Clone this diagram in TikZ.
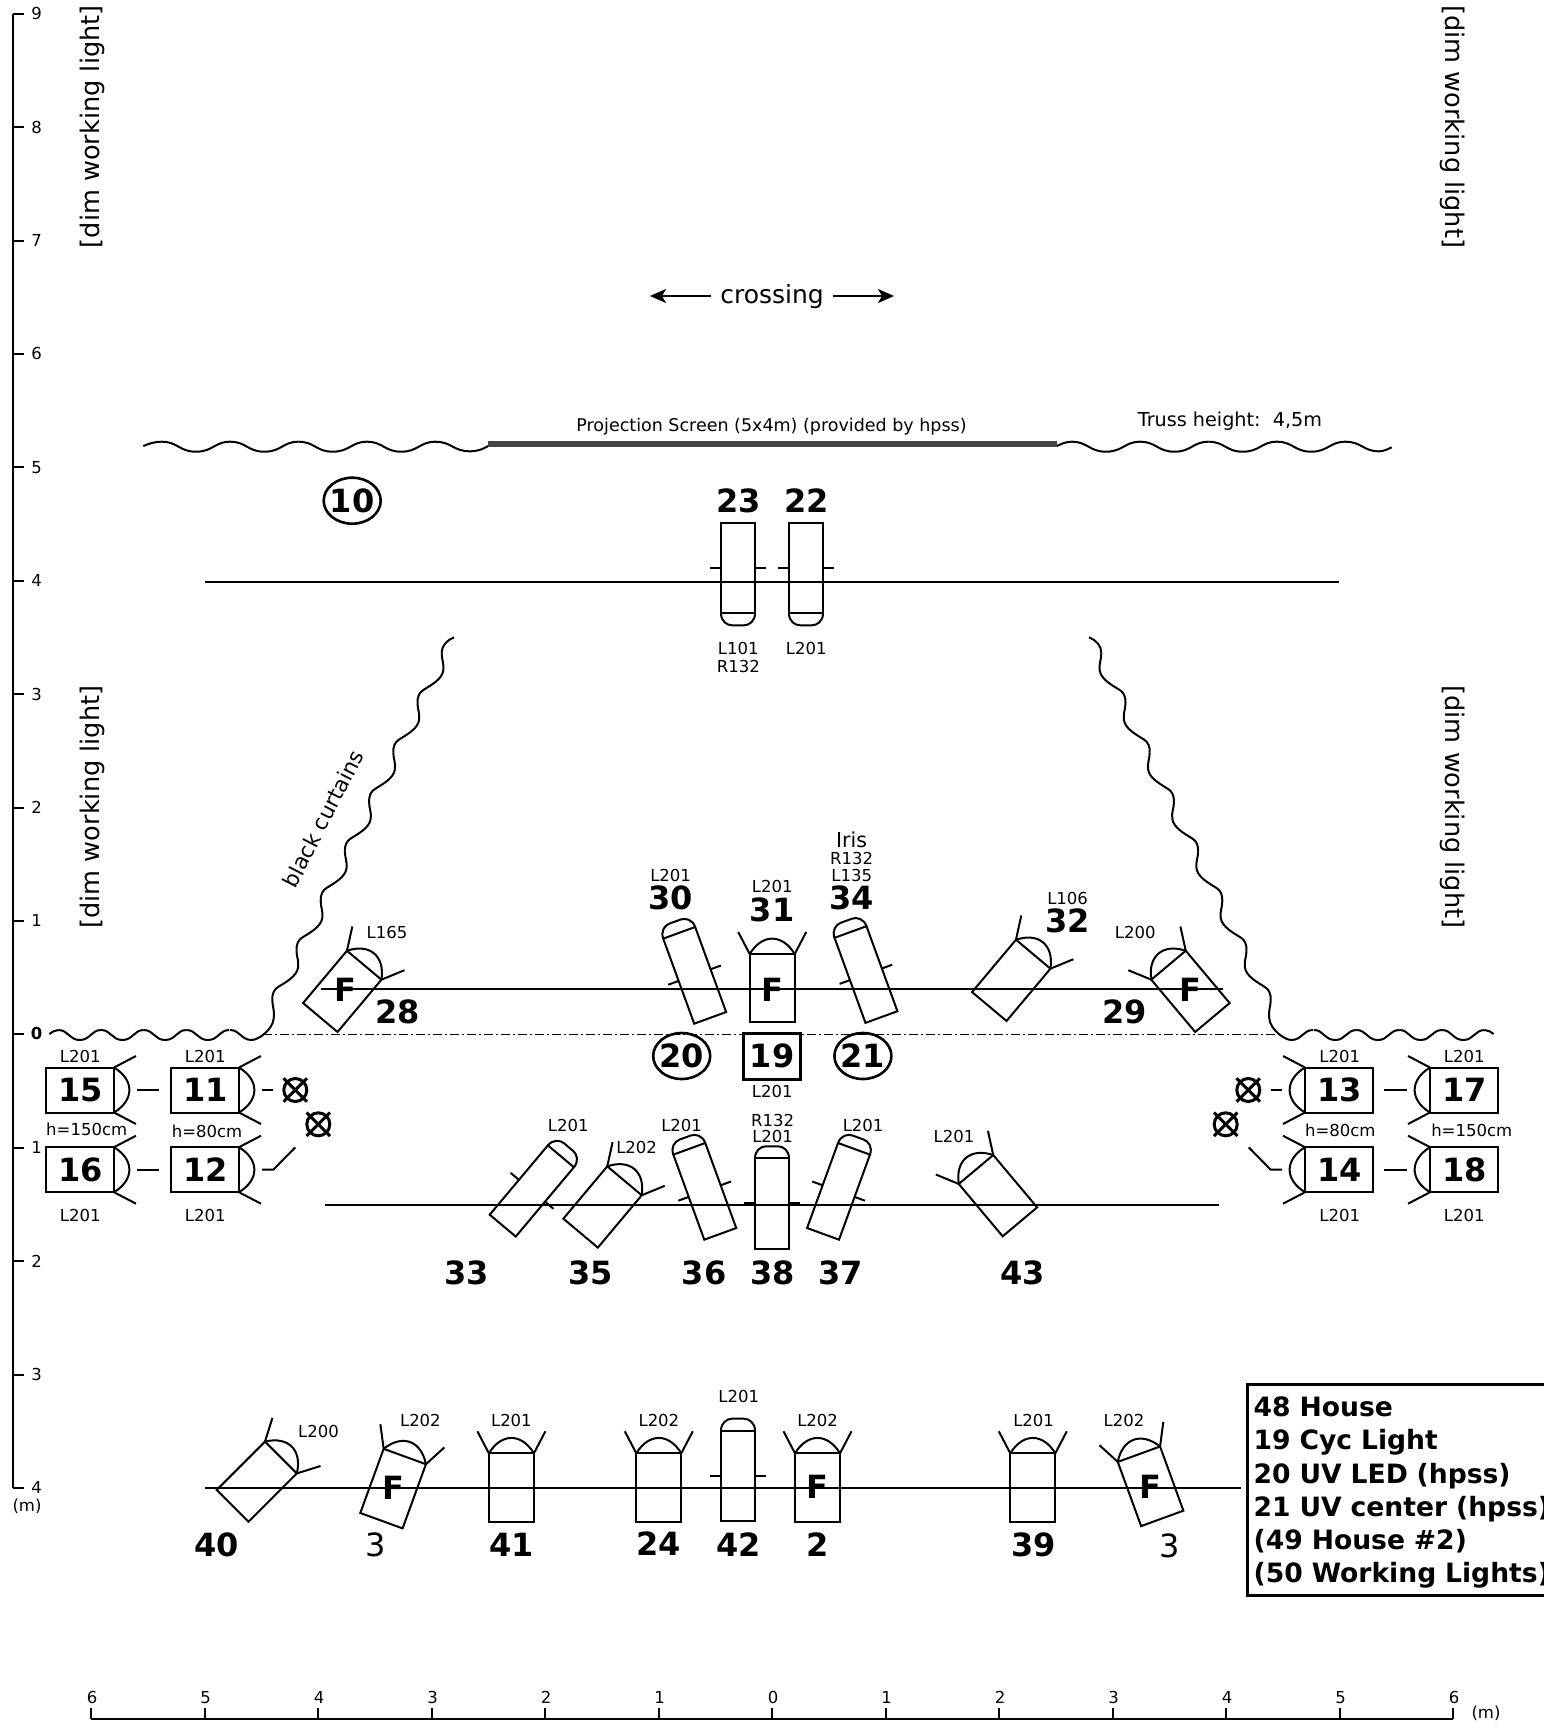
\documentclass[tikz,border=0pt]{standalone}
\usepackage{fontspec}
\setmainfont{DejaVu Sans}
\usetikzlibrary{arrows.meta}

\tikzset{
    numlabel/.style={font=\fontsize{32}{32}\selectfont\bfseries,inner sep=0pt,xshift=1pt},
    gellabel/.style={font=\fontsize{16.5}{16.5}\selectfont,inner sep=0pt,xshift=1pt},
    scalelabel/.style={font=\fontsize{16.5}{16.5}\selectfont,inner sep=0pt,xshift=1pt},
    walllabel/.style={font=\fontsize{25.6}{25.6}\selectfont,inner sep=0pt},
    pics/fresnel/.style={code={
        \draw (-22.5,0) rectangle (22.5,68.3);
        \draw (-22.5,0) .. controls (-10,-20.5) and (10,-20.5) .. (22.5,0);
        \draw (-22.5,0) -- (-34,-22);
        \draw (22.5,0) -- (34,-22);
    }},
    pics/profile/.style={code={
        \draw (-17,0) rectangle (17,90.5);
        \draw (-17,0) .. controls (-17,-8) and (-11,-12) .. (-6,-12) -- (6,-12) .. controls (11,-12) and (17,-8) .. (17,0);
        \draw (-28,45) -- (-17,45);
        \draw (17,45) -- (28,45);
    }},
    pics/outlet/.style={code={
        \draw[line width=3pt] (0,0) circle (11.5);
        \draw[line width=3pt] (-11.7,-11.7) -- (11.7,11.7);
        \draw[line width=3pt] (-11.7,11.7) -- (11.7,-11.7);
    }},
    pics/wavefold/.style={code={
        \draw (0,0) .. controls (10,0) and (11,10) .. (21.35,10) .. controls (32,10) and (33,0) .. (42.7,0);
    }},
    pics/curtainfold/.style={code={
        \draw (0,0) .. controls (0,7) and (2.5,10) .. (1.6,17) .. controls (0.5,26) and (-11,32) .. (-18.4,36.7) .. controls (-22.5,39) and (-24.5,44) .. (-24.2,49.5);
    }},
    pics/curtain/.style={code={
        \draw (454,637.3) .. controls (447,640) and (441.3,646) .. (441.7,653.3);
        \foreach \k in {0,...,6}{
            \pic[transform shape] at ({441.7-24.2*\k},{653.3+49.5*\k}) {curtainfold};
        }
        \draw (272.3,1000) .. controls (272.3,1007) and (275,1010) .. (273.6,1019) .. controls (272.5,1030) and (258,1040) .. (251.7,1040) .. controls (241,1040) and (240,1030) .. (230,1030);
        \foreach \k in {0,...,3}{
            \pic[transform shape] at ({58.3+42.7*\k},1030) {wavefold};
        }
        \draw (49.3,1034) .. controls (52,1032) and (55,1030) .. (58.3,1030);
    }},
}

\begin{document}
\begin{tikzpicture}[x=1pt,y=-1pt,line width=2pt]
    \definecolor{screen_grey}{HTML}{444444}
    \useasboundingbox (0,0) rectangle (1543,1730);

    % scales
    \draw (13,14) -- (13,1488);
    \draw (91,1719) -- (1453,1719);
    \foreach \n in {1,...,9}{
        \draw (13,{1034.3-113.4*\n}) -- ++(11,0);
        \node[scalelabel] (up\n) at (35.7,{1034.3-113.4*\n}) {\n};
    }
    \foreach \n in {1,...,4}{
        \draw (13,{1034.3+113.4*\n}) -- ++(11,0);
        \node[scalelabel] (down\n) at (35.7,{1034.3+113.4*\n}) {\n};
    }
    \draw (13,1034.3) -- ++(11,0);
    \node[scalelabel,font=\fontsize{16.5}{16.5}\selectfont\bfseries] (down0) at (35.7,1033.3) {0};
    \node[scalelabel] (downm) at (26,1506.5) {(m)};
    \foreach \n in {1,...,6}{
        \draw ({772+113.5*\n},1719) -- ++(0,-10.6);
        \draw ({772-113.5*\n},1719) -- ++(0,-10.6);
        \node[scalelabel] (right\n) at ({772+113.5*\n},1697.3) {\n};
        \node[scalelabel] (left\n) at ({772-113.5*\n},1697.3) {\n};
    }
    \draw (772,1719) -- ++(0,-10.6);
    \node[scalelabel] (mid0) at (772,1697.3) {0};
    \node[scalelabel] (rightm) at (1485,1713) {(m)};

    % walls and screen
    \pic at (0,0) {curtain};
    \pic[xscale=-1] at (1543,0) {curtain};
    \draw[dash pattern=on 9pt off 3pt on 2pt off 3pt,line width=1.6pt] (263,1034.5) -- (1277,1034.5);
    \draw (143.3,446) .. controls (149,443.5) and (155,441.7) .. (161.7,441.7);
    \foreach \k in {0,...,3}{
        \pic[xscale=1.602] at ({161.7+68.4*\k},441.7) {wavefold};
    }
    \draw (435,441.7) .. controls (452,441.7) and (453,451.3) .. (470,451.3) .. controls (478,451.3) and (483,449) .. (488.3,446);
    \draw (1056.7,446) .. controls (1061,444) and (1066,441.7) .. (1071.7,441.7);
    \foreach \k in {0,...,3}{
        \pic[xscale=1.602] at ({1071.7+68.4*\k},441.7) {wavefold};
    }
    \draw (1345,441.7) .. controls (1362,441.7) and (1363,451.3) .. (1379,451.3) .. controls (1384,451.3) and (1388,449) .. (1391.7,447.3);
    \draw[screen_grey,line width=6pt] (487.5,443.7) -- (1056.6,443.7);

    % pipes
    \draw (205,581.7) -- (1339,581.7);
    \draw (320.7,988.5) -- (1222.7,988.5);
    \draw (325,1205) -- (1219.3,1205);
    \draw (205,1488.3) -- (1241.3,1488.3);

    % lamps on the pipes
    \pic[rotate=180] at (738,613.3) {profile};
    \pic[rotate=180] at (806,613.3) {profile};
    \pic[rotate=-40] at (364.2,965.2) {fresnel};
    \pic[rotate=40] at (1168.5,965.2) {fresnel};
    \pic[rotate=-40] at (1033.2,954.2) {fresnel};
    \pic at (772.2,954) {fresnel};
    \pic[rotate=20] at (679.2,932.8) {profile};
    \pic[rotate=20] at (850.5,932) {profile};
    \pic[rotate=-40] at (560.9,1156.3) {profile};
    \pic[rotate=20] at (689.3,1148.8) {profile};
    \pic at (772,1158.3) {profile};
    \pic[rotate=-20] at (854,1148.8) {profile};
    \pic[rotate=-40] at (624.5,1180.8) {fresnel};
    \pic[rotate=40] at (976,1169.5) {fresnel};
    \pic[rotate=-45] at (280.9,1457.5) {fresnel};
    \pic[rotate=-20] at (404.8,1456.5) {fresnel};
    \pic at (511.4,1453.3) {fresnel};
    \pic at (658.8,1453.3) {fresnel};
    \pic at (738,1430.7) {profile};
    \pic at (817.5,1453.3) {fresnel};
    \pic at (1032.8,1453.3) {fresnel};
    \pic[rotate=20] at (1138.9,1454.2) {fresnel};

    % floor stands
    \foreach \x/\y in {114/1090,239/1090,114/1169.7,239/1169.7}{
        \pic[rotate=-90] at (\x,\y) {fresnel};
    }
    \foreach \x/\y in {1305/1090,1430/1090,1305/1169.7,1430/1169.7}{
        \pic[rotate=90] at (\x,\y) {fresnel};
    }
    \draw (137,1090) -- (159.3,1090);
    \draw (262,1090) -- (272.7,1090);
    \draw (137,1169.7) -- (159.3,1169.7);
    \draw (262,1169.7) -- (273.3,1169.7) -- (295.3,1147.3);
    \draw (1271,1090) -- (1282,1090);
    \draw (1384.3,1090) -- (1407,1090);
    \draw (1384.3,1169.7) -- (1407,1169.7);
    \draw (1282,1169.7) -- (1270.7,1169.7) -- (1248.7,1147.3);
    \pic at (295.3,1090) {outlet};
    \pic at (318.3,1124.3) {outlet};
    \pic at (1248.3,1090) {outlet};
    \pic at (1225.7,1124.3) {outlet};

    % circuit numbers
    \foreach \t/\x/\y in {
        15/79.3/1090,11/204.3/1090,16/79.3/1169.7,12/204.3/1169.7,
        13/1338.7/1090,17/1463.7/1090,14/1338.7/1169.7,18/1463.7/1169.7,
        23/737.5/500.8,22/805.8/500.8,
        28/396.7/1011.7,29/1123.3/1011.7,30/669.6/898.3,31/771.2/910,34/850.7/898.3,32/1066.6/921,
        33/465.5/1272.7,35/589.7/1272.7,36/703.2/1272.7,38/771.6/1272.7,37/839.6/1272.7,43/1021.5/1272.7,
        40/215.6/1545,41/510.4/1545,24/657.9/1544,42/737.7/1545,2/816.6/1545,39/1032.6/1545}{
        \node[numlabel] (num\t) at (\x,\y) {\t};
    }
    \node[numlabel] (num19) at (771.2,1056) {19};
    \node[numlabel] (num20) at (680.7,1056) {20};
    \node[numlabel] (num21) at (861.9,1056) {21};
    \node[numlabel] (num10) at (351.2,500.7) {10};
    \draw[line width=3pt] (743.1,1033.3) rectangle (800.8,1079.3);
    \draw[line width=2.6pt] (num20) ellipse (28.5 and 23);
    \draw[line width=2.6pt] (num21) ellipse (28.5 and 23);
    \draw[line width=2.6pt] (num10) ellipse (28.5 and 23);
    \node[numlabel,font=\fontsize{32}{32}\selectfont] (numa3) at (374.3,1545) {3};
    \node[numlabel,font=\fontsize{32}{32}\selectfont] (numb3) at (1168.3,1546) {3};
    \foreach \m/\x/\y in {28/344.3/990,29/1189/990,31/771.6/990,a3/392.5/1488.3,2/816.6/1487.3,b3/1149.8/1486.7}{
        \node[numlabel] (f\m) at (\x,\y) {F};
    }

    % gels
    \foreach \m/\t/\x/\y in {
        15/L201/79.3/1056.7,11/L201/204.3/1056.7,16/L201/79.3/1215,12/L201/204.3/1215,
        13/L201/1338.7/1056.7,17/L201/1463.3/1056.7,14/L201/1338.7/1215,18/L201/1463.3/1215,
        hb/h=150cm/85.7/1129.3,ha/h=80cm/206/1131,hc/h=80cm/1339.3/1130,hd/h=150cm/1470.7/1130,
        23/L101/737.3/648.3,23b/R132/737.3/666.7,22/L201/805.3/648.3,
        28/L165/386/932.3,29/L200/1134.3/932.3,30/L201/669.6/875,31/L201/771.2/886,
        34/L135/850.7/875,34b/R132/850.7/858.3,32/L106/1066.6/898,19/L201/771.2/1091,
        38b/R132/771.6/1120,38/L201/771.6/1136.7,33/L201/567.2/1125,35/L202/635.6/1147.3,
        36/L201/680.6/1125,37/L201/862.1/1125,43/L201/953/1136.7,
        40/L200/317.5/1431,a3/L202/419.4/1420,41/L201/510.4/1420,24/L202/657.9/1420,
        42/L201/737.7/1396.7,2/L202/816.6/1420,39/L201/1032.6/1420,b3/L202/1123/1420}{
        \node[gellabel] (gel\m) at (\x,\y) {\t};
    }
    \node[inner sep=0pt,font=\fontsize{20.6}{20.6}\selectfont] (iris34) at (851.5,840) {Iris};

    % texts
    \node[walllabel,font=\fontsize{25}{25}\selectfont] (crossing) at (772,296) [text height=19pt,text depth=4pt,inner xsep=8pt] {crossing};
    \coordinate (crossingl) at (650,296);
    \coordinate (crossingr) at (894,296);
    \draw[-{Stealth[length=16pt,width=14pt,inset=4pt]}] (crossing.west) -- (crossingl);
    \draw[-{Stealth[length=16pt,width=14pt,inset=4pt]}] (crossing.east) -- (crossingr);
    \node[inner sep=0pt,font=\fontsize{17.5}{17.5}\selectfont] (screen) at (771.5,426.5) {Projection Screen (5x4m) (provided by hpss)};
    \node[inner sep=0pt,font=\fontsize{19.2}{19.2}\selectfont] (truss) at (1230,421) {Truss height:\ \ 4,5m};
    \node[inner sep=0pt,rotate=63,font=\fontsize{21.5}{21.5}\selectfont] (curtains) at (323,818.7) {black curtains};
    \node[walllabel,rotate=90] (dimlt) at (92.5,126.8) {[dim working light]};
    \node[walllabel,rotate=90] (dimlb) at (92.5,807) {[dim working light]};
    \node[walllabel,rotate=-90] (dimrt) at (1453,126.8) {[dim working light]};
    \node[walllabel,rotate=-90] (dimrb) at (1453,807) {[dim working light]};

    % legend
    \node[draw,line width=3pt,anchor=north west,inner sep=6pt,text width=330pt,align=left,minimum height=211pt,font=\fontsize{26.6}{33.2}\selectfont\bfseries] (legend) at (1246.2,1382.5) {\rule{0pt}{26pt}48 House\\19 Cyc Light\\20 UV LED (hpss)\\21 UV center (hpss)\\(49 House \#2)\\(50 Working Lights)};
\end{tikzpicture}
\end{document}
